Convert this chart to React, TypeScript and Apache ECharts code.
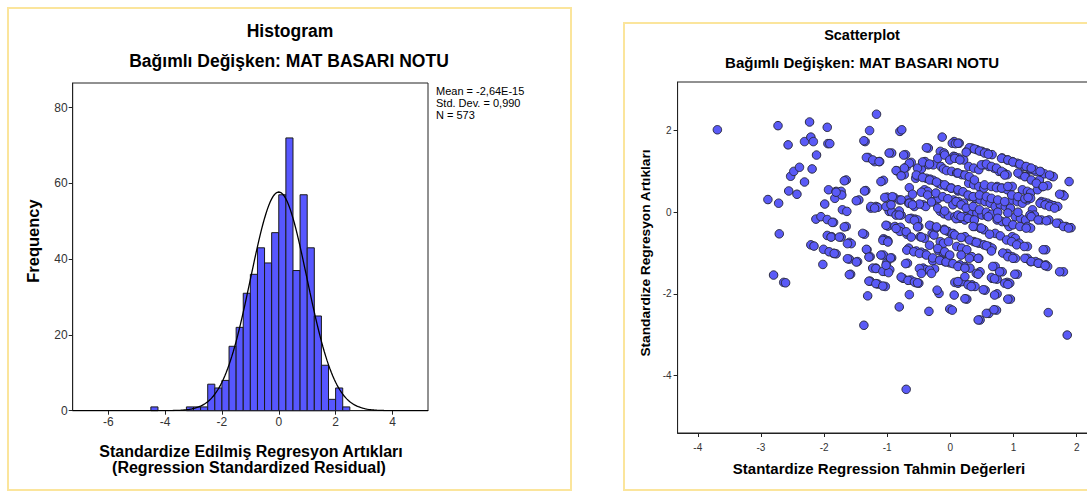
import React, { useEffect, useRef } from "react";
import * as echarts from "echarts";

// ---------- Histogram data ----------
const binStarts = [-4.5, -3.25, -3.0, -2.75, -2.5, -2.25, -2.0, -1.75, -1.5, -1.25, -1.0, -0.75, -0.5, -0.25, 0.0, 0.25, 0.5, 0.75, 1.0, 1.25, 1.5, 1.75, 2.0, 2.25];
const binCounts = [1, 1, 1, 1, 7, 6, 8, 17, 22, 31, 36, 43, 39, 47, 57, 72, 37, 57, 43, 25, 12, 3, 6, 1];
const BIN_WIDTH = 0.25;
const MEAN = -2.64e-15;
const STD_DEV = 0.99;
const N = 573;
const histXTicks = [-6, -4, -2, 0, 2, 4];
const histYTicks = [0, 20, 40, 60, 80];

// ---------- Scatter data (predicted, residual) ----------
const predicted = [
  -3.69, -2.73, -2.57, -2.89, -2.72, -2.71, -2.8, -2.64, -2.61, -2.53, -2.48, -2.39, -2.56, -2.43, -2.31, -2.31, -2.23, -2.21, -2.17, -2.19, -2.12, -1.95, -1.94, -1.91,
  -2.13, -2.05, -2.21, -2.16, -2.01, -2.02, -1.99, -1.95, -1.93, -1.85, -1.83, -1.81, -1.73, -1.72, -1.65, -1.95, -1.88, -1.85, -1.81, -1.73, -1.71, -1.64, -1.65,
  -1.6, -1.57, -1.6, -1.58, -1.47, -1.45, -1.36, -1.34, -1.35, -1.3, -1.28, -1.17, -1.2, -1.12, -1.26, -1.18, -1.15, -1.32, -1.27, -1.31, -1.37, -1.27, -1.15, -1.03,
  -1.18, -1.04, -1.01, -1.0, -0.96, -1.06, -0.93, -1.06, -1.03, -0.99, -0.99, -1.0, -0.89, -1.06, -0.93, -0.97, -0.93, -0.88, -0.83, -0.79, -0.8, -0.84, -0.8, -0.77,
  -0.73, -0.71, -0.78, -0.81, -0.68, -0.7, -0.62, -0.69, -0.66, -0.68, -0.75, -0.63, -0.54, -0.5, -0.65, -0.81, -0.7, -0.62, -0.57, -0.62, -0.56, -0.52, -0.5,
  -0.54, -0.46, -0.4, -0.48, -0.41, -0.55, -0.52, -0.49, -0.46, -0.4, -0.35, -0.41, -0.36, -0.43, -0.39, -0.38, -0.32, -0.27, -0.35, -0.27, -0.43, -0.39, -0.34,
  -0.28, -0.25, -0.29, -0.26, -0.3, -0.22, -0.27, -0.22, -0.19, -0.18, -0.16, -0.11, -0.19, -0.11, -0.16, -0.09, -0.01, -0.13, -0.16, -0.1, -0.15, -0.11, -0.06,
  -0.19, -0.14, -0.06, 0.02, -0.16, -0.1, -0.03, -0.1, -0.04, 0.02, -0.01, 0.03, 0.06, 0.07, 0.12, 0.18, 0.06, 0.14, 0.02, 0.1, 0.18, 0.05, 0.13, 0.21, 0.05, 0.13,
  0.21, 0.07, 0.15, 0.23, 0.1, 0.18, 0.26, 0.15, 0.23, 0.31, 0.26, 0.26, 0.34, 0.42, 0.5, 0.58, 0.66, 0.29, 0.37, 0.45, 0.53, 0.61, 0.69, 0.29, 0.37, 0.45, 0.53,
  0.31, 0.39, 0.47, 0.55, 0.63, 0.34, 0.42, 0.5, 0.58, 0.39, 0.47, 0.53, 0.37, 0.45, 0.53, 0.61, 0.66, 0.34, 0.45, 0.47, 0.34, 0.39, 0.55, 0.47, 0.61, 0.73, 0.74,
  0.66, 0.74, 0.71, 0.82, 0.9, 0.94, 0.95, 1.06, 0.9, 0.98, 1.03, 0.71, 0.79, 0.74, 0.82, 0.9, 0.93, 0.71, 0.79, 0.87, 0.95, 0.74, 0.82, 0.9, 0.98, 0.77, 0.85,
  0.9, 0.82, 0.9, 0.98, 1.06, 0.98, 1.03, 1.09, 0.98, 1.06, 1.14, 1.03, 1.11, 1.19, 1.14, 1.22, 1.27, 1.11, 1.19, 1.27, 1.35, 1.17, 1.25, 1.33, 1.22, 1.27, 1.22,
  1.22, 1.27, 1.35, 1.41, 1.51, 1.54, 1.51, 1.22, 1.27, 1.3, 1.33, 1.38, 1.46, 1.54, 1.41, 1.44, 1.49, 1.44, 1.49, 1.54, 1.59, 1.64, 1.7, 1.44, 1.56, 1.72, 1.61,
  1.63, 1.78, 1.8, 1.88, 1.83, 1.91, 1.79, 1.55, 1.85, 0.23, 0.23, -0.03
];
const residual = [
  2.02, 2.12, 1.65, 0.31, 0.22, -0.53, -1.54, -1.72, -1.73, 0.88, 1.0, 1.1, 0.52, 0.44, 0.74, 1.73, 2.21, 1.84, 1.73, 1.06, 1.4, 2.08, 1.68, 1.68,
  -0.17, -0.11, -0.8, -0.83, -0.91, -1.28, 0.2, -0.18, 0.55, -0.25, 0.34, 0.51, 0.51, 0.42, 0.79, -0.57, -0.6, -1.01, -1.02, -0.61, 0.06, 0.02, -0.35,
  -0.74, -0.77, -1.15, -1.52, -1.21, 0.3, -0.54, 0.53, 1.73, 1.34, 2.0, 2.4, 1.24, 1.24, 0.1, 0.14, 0.12, -0.92, -1.09, -2.05, -2.77, -1.69, -1.76, -1.82,
  -1.37, -1.45, -1.24, -1.41, -1.41, -1.05, -1.12, -0.65, -0.68, -0.7, -0.34, 0.37, 0.36, 0.78, 1.45, 0.02, 0.01, -0.35, -0.39, -0.37, -0.47, 1.01, 1.98, 2.02,
  0.92, 1.41, -0.07, 0.3, 0.3, 1.1, 1.22, -0.54, -0.88, -1.25, -1.62, -1.66, -1.73, -1.74, -2.02, -2.32, -4.34, 0.22, 0.14, -0.15, -0.17, -0.19, -0.35,
  -0.95, -0.98, -1.02, -0.6, -0.64, 0.83, 0.89, 0.96, 1.06, 1.24, 1.57, 0.55, 0.51, 0.18, 0.14, 0.83, 0.81, 0.78, 1.16, 1.16, -1.37, -1.41, -2.43,
  -1.19, -1.39, -0.52, -0.56, -0.34, -0.38, 0.26, 0.3, 0.34, -1.99, -0.72, -0.76, -0.94, -0.99, -1.17, -1.21, -1.24, 1.84, 1.49, 1.45, 1.12, 1.06, 1.02,
  0.71, 0.67, 0.63, 0.59, 0.02, -0.04, -0.09, -0.42, -0.47, -0.53, -2.37, -2.4, -2.03, -1.72, -1.74, -1.7, 1.73, 1.69, 1.0, 0.96, 0.92, 1.37, 1.33, 1.28, 0.3, 0.26,
  0.22, -0.11, -0.15, -0.19, -0.84, -0.88, -0.92, -1.29, -1.33, -1.37, -2.13, 1.49, 1.57, 1.53, 1.49, 1.45, 1.41, 1.12, 1.08, 1.04, 1.16, 1.12, 1.08, 0.71, 0.67, 0.63, 0.59,
  0.38, 0.34, 0.3, 0.26, 0.22, 0.02, -0.02, -0.07, -0.09, -0.35, -0.39, -0.43, -0.72, -0.76, -0.8, -0.84, -0.88, -1.09, -1.13, -1.46, -1.78, -1.82, -1.91, -2.64, -2.48, -2.4, -2.0,
  -1.62, -1.64, -1.33, -1.46, -1.72, -1.74, -2.13, -1.52, -1.01, -1.09, -1.13, -0.52, -0.58, -0.19, -0.23, -0.27, -0.35, 0.14, 0.18, 0.14, 0.1, 0.63, 0.59, 0.55, 0.63, 1.0, 0.96,
  0.92, 1.33, 1.28, 1.24, 1.2, -0.6, -0.64, -0.76, 0.3, 0.26, 0.22, -0.11, -0.15, -0.19, 0.55, 0.51, 0.47, 0.92, 0.88, 1.04, 1.0, 1.12, 1.08, 1.04, -0.35, -0.39, -0.84,
  -1.13, -1.21, -1.21, -1.25, -1.29, -1.33, -0.92, 0.3, 0.34, 0.06, -0.07, 0.55, 0.63, 0.65, 0.79, 0.98, 0.94, 0.26, 0.24, 0.22, 0.18, 0.16, 0.14, -0.19, -0.19, -0.27, 0.88,
  0.87, 0.43, 0.4, 0.75, -0.35, -0.38, -1.46, -2.46, -3.01, -0.6, -1.58, -0.72
];

// Further points read from the dense middle of the cloud, as [predicted, residual]
const denseUpperLeft: [number, number][] = [
  [-1.37, 1.75], [0.03, 1.69], [0.08, 1.68], [-0.38, 1.58], [-0.97, 1.45], [-0.74, 1.4], [-1.33, 1.34], [-1.23, 1.28], [-1.13, 1.24], [-0.65, 1.2],
  [-0.73, 1.08], [-0.86, 1.02], [-0.78, 0.89], [-0.52, 1.08], [-0.44, 1.23], [-0.33, 1.18], [-0.2, 1.32], [-0.09, 1.4], [-0.01, 1.28], [0.07, 1.36],
  [-0.54, 0.91], [-0.44, 0.85], [-0.33, 0.79], [-0.22, 0.74], [-0.09, 0.67], [0.01, 0.59], [0.12, 0.52], [-0.65, 0.6], [-0.6, 0.44], [-0.46, 0.49],
  [-0.36, 0.42], [-0.23, 0.47], [-0.12, 0.38], [-0.04, 0.33], [-1.04, 0.36], [-0.92, 0.38], [-0.78, 0.3], [-0.66, 0.22], [-0.49, 0.2], [-0.3, 0.25],
  [-0.2, 0.1], [-0.09, 0.03], [0.04, 0.18], [-1.68, 0.77], [-1.81, 0.49], [-1.36, 0.52], [-1.1, 0.75], [-1.49, 0.28], [-1.26, 0.14], [-1.2, 0.1],
  [-1.02, 0.14], [-0.94, 0.18], [-0.81, 0.03], [-0.65, 0.22], [-0.6, 0.18]
];
const denseLowerLeft: [number, number][] = [
  [-1.87, -0.25], [-1.68, -0.36], [-1.39, -0.52], [-1.89, -0.61], [-1.76, -0.61], [-1.63, -0.77], [-1.07, -0.69], [-0.99, -0.73], [-1.92, -0.97], [-1.84, -1.01],
  [-1.63, -1.14], [-1.49, -1.22], [-1.33, -0.91], [-1.29, -1.1], [-1.1, -1.05], [-0.95, -1.12], [-1.23, -1.37], [-1.18, -1.38], [-1.07, -1.45], [-0.98, -1.48],
  [-1.02, -1.3], [-1.6, -1.53], [-1.29, -1.69], [-1.18, -1.75], [-1.07, -1.81], [-0.69, -0.93], [-0.58, -0.97], [-0.49, -1.01], [-0.38, -1.05], [-0.28, -1.12],
  [-0.17, -1.18], [-0.07, -1.22], [0.04, -1.26], [-0.71, -1.26], [-0.49, -1.38], [-0.46, -1.5], [-0.33, -1.42], [-0.3, -1.5], [-0.78, -1.59], [-0.67, -1.67],
  [-0.57, -1.71], [-0.52, -1.73], [-0.21, -1.91], [-0.86, -0.07], [-0.81, -0.07], [-0.65, -0.16], [-0.57, -0.2], [-1.02, -0.32], [-0.86, -0.4], [-0.7, -0.48],
  [-0.52, -0.36], [-0.46, -0.61], [-0.62, -0.61], [-0.33, -0.32], [-0.22, -0.36], [-0.09, -0.44], [0.04, -0.52], [0.09, -0.16], [-0.33, -0.81], [-0.2, -0.89],
  [-0.09, -0.97], [-0.01, -1.05]
];
const denseUpperRight: [number, number][] = [
  [0.12, 1.69], [0.3, 1.58], [0.38, 1.55], [0.46, 1.5], [0.54, 1.45], [0.6, 1.42], [0.25, 1.47], [0.07, 1.32], [0.15, 1.28], [0.81, 1.32],
  [0.91, 1.28], [0.99, 1.23], [1.1, 1.18], [1.2, 1.12], [1.28, 1.08], [1.42, 1.0], [1.57, 0.91], [0.49, 1.16], [0.57, 1.18], [0.65, 1.12],
  [0.73, 1.08], [0.81, 1.0], [0.86, 0.91], [0.12, 0.96], [0.23, 0.91], [0.3, 0.87], [0.38, 0.79], [1.07, 0.96], [1.18, 0.87], [1.28, 0.79],
  [1.36, 0.71], [1.47, 0.63], [1.73, 0.44], [0.54, 0.67], [0.65, 0.63], [0.73, 0.6], [0.81, 0.59], [0.91, 0.63], [0.12, 0.55], [0.2, 0.5],
  [0.28, 0.42], [0.36, 0.38], [0.46, 0.42], [0.57, 0.38], [0.65, 0.34], [0.75, 0.3], [0.86, 0.26], [0.97, 0.42], [1.07, 0.38], [1.18, 0.33],
  [1.23, 0.36], [1.42, 0.22], [1.5, 0.18], [1.57, 0.14], [1.65, 0.1], [0.09, 0.26], [0.17, 0.18], [0.25, 0.1], [0.36, 0.14], [0.46, 0.06],
  [0.57, 0.0], [0.65, -0.05], [0.75, 0.0], [0.91, -0.02], [1.07, 0.0], [1.26, -0.07], [0.12, -0.07], [0.23, -0.11]
];
const denseLowerRight: [number, number][] = [
  [0.17, -0.11], [0.28, -0.15], [0.38, -0.19], [0.6, -0.11], [0.75, -0.15], [0.89, -0.23], [0.99, -0.31], [1.1, -0.35], [1.2, -0.39], [1.28, -0.11],
  [1.39, -0.19], [1.52, -0.21], [1.68, -0.27], [1.79, -0.35], [1.87, -0.39], [0.36, -0.35], [0.49, -0.39], [0.62, -0.54], [0.07, -0.56], [0.17, -0.62],
  [0.3, -0.68], [0.41, -0.74], [0.57, -0.82], [0.65, -0.95], [0.89, -0.68], [0.97, -0.72], [1.05, -0.8], [1.17, -0.84], [1.47, -0.92], [0.17, -1.05],
  [0.3, -1.13], [0.44, -1.13], [0.83, -1.0], [0.91, -1.09], [0.99, -1.13], [1.18, -1.13], [1.28, -1.21], [1.39, -1.25], [1.5, -1.31], [1.73, -1.46],
  [0.12, -1.33], [0.23, -1.37], [0.41, -1.5], [0.44, -1.52], [0.67, -1.33], [0.78, -1.46], [0.65, -1.6], [0.7, -1.63], [1.02, -1.52], [0.86, -1.74],
  [0.91, -1.77], [0.12, -1.7], [0.28, -1.78], [0.33, -1.82], [0.52, -1.9], [0.7, -2.03], [0.91, -2.13], [0.23, -2.12], [0.57, -2.48], [0.69, -2.39],
  [0.44, -2.64]
];
const scatterXTicks = [-4, -3, -2, -1, 0, 1, 2];
const scatterYTicks = [-4, -2, 0, 2];

const FONT = "'Liberation Sans', Arial, Helvetica, sans-serif";

function normalCurve(): number[][] {
  const pts: number[][] = [];
  for (let i = 0; i <= 250; i++) {
    const x = -7.25 + (12.5 * i) / 250;
    const z = (x - MEAN) / STD_DEV;
    const y = (N * BIN_WIDTH * Math.exp(-0.5 * z * z)) / (STD_DEV * Math.sqrt(2 * Math.PI));
    pts.push([x, y]);
  }
  return pts;
}

export default function App() {
  const ref = useRef<HTMLDivElement>(null);
  useEffect(() => {
    if (!ref.current) return;
    const chart = echarts.init(ref.current, null, { renderer: "svg" });
    const histData = binStarts.map((s, i) => [s, s + BIN_WIDTH, binCounts[i]]);
    const n = Math.min(predicted.length, residual.length);
    const scatterData: number[][] = [];
    for (let i = 0; i < n; i++) scatterData.push([predicted[i], residual[i]]);
    [denseUpperLeft, denseLowerLeft, denseUpperRight, denseLowerRight].forEach((arr) => arr.forEach((p) => scatterData.push([p[0], p[1]])));
    const tickLabel = { color: "#333", fontFamily: FONT };
    const axisLine = { show: true, onZero: false, lineStyle: { color: "#222", width: 1 } };
    const axisTick = { show: true, length: 4, lineStyle: { color: "#222", width: 1 } };
    const hidden = { show: false };
    chart.setOption({
      animation: false,
      textStyle: { fontFamily: FONT },
      grid: [
        { left: 72.7, top: 83, width: 355.3, height: 327.7, show: true, borderColor: "#222", borderWidth: 1, containLabel: false },
        { left: 677.6, top: 82, width: 417.4, height: 351, show: true, borderColor: "#222", borderWidth: 1, containLabel: false },
      ],
      xAxis: [
        {
          type: "value", gridIndex: 0, min: -7.25, max: 5.25,
          axisLine, axisTick: { ...axisTick, customValues: histXTicks },
          axisLabel: { ...tickLabel, fontSize: 12, margin: 5, customValues: histXTicks },
          splitLine: hidden,
        },
        {
          type: "value", gridIndex: 1, min: -4.32, max: 2.29,
          axisLine, axisTick: { ...axisTick, customValues: scatterXTicks },
          axisLabel: { ...tickLabel, fontSize: 10, margin: 9, customValues: scatterXTicks },
          splitLine: hidden,
        },
      ],
      yAxis: [
        {
          type: "value", gridIndex: 0, min: 0, max: 86.5,
          axisLine, axisTick: { ...axisTick, customValues: histYTicks },
          axisLabel: { ...tickLabel, fontSize: 12, margin: 5, customValues: histYTicks },
          splitLine: hidden,
        },
        {
          type: "value", gridIndex: 1, min: -5.41, max: 3.19,
          axisLine, axisTick: { ...axisTick, customValues: scatterYTicks },
          axisLabel: { ...tickLabel, fontSize: 10, margin: 6, customValues: scatterYTicks },
          splitLine: hidden,
        },
      ],
      series: [
        {
          type: "custom",
          xAxisIndex: 0, yAxisIndex: 0,
          data: histData,
          encode: { x: [0, 1], y: 2 },
          renderItem: (params: any, api: any) => {
            const p1 = api.coord([api.value(0), api.value(2)]);
            const p2 = api.coord([api.value(1), 0]);
            return {
              type: "rect",
              shape: { x: p1[0], y: p1[1], width: p2[0] - p1[0], height: p2[1] - p1[1] },
              style: { fill: "#5757ff", stroke: "#1a1a1a", lineWidth: 1 },
            };
          },
        },
        {
          type: "line",
          xAxisIndex: 0, yAxisIndex: 0,
          data: normalCurve(),
          showSymbol: false,
          symbol: "none",
          lineStyle: { color: "#000", width: 1.3 },
          z: 5,
        },
        {
          type: "scatter",
          xAxisIndex: 1, yAxisIndex: 1,
          data: scatterData,
          symbolSize: 8.5,
          itemStyle: { color: "#5a5af7", borderColor: "#2a2a40", borderWidth: 1, opacity: 1 },
        },
      ],
      graphic: [
        { type: "rect", shape: { x: 8, y: 8, width: 563, height: 482 }, style: { fill: "none", stroke: "#fbe59c", lineWidth: 2 }, z: -10 },
        { type: "rect", shape: { x: 624, y: 23, width: 500, height: 467 }, style: { fill: "none", stroke: "#fbe59c", lineWidth: 2 }, z: -10 },
        { type: "text", x: 290, y: 31, style: { text: "Histogram", font: `bold 17.5px ${FONT}`, fill: "#000", textAlign: "center", textVerticalAlign: "middle" } },
        { type: "text", x: 289, y: 61, style: { text: "Bağımlı Değişken: MAT BASARI NOTU", font: `bold 17.5px ${FONT}`, fill: "#000", textAlign: "center", textVerticalAlign: "middle" } },
        { type: "text", x: 33, y: 241, rotation: Math.PI / 2, style: { text: "Frequency", font: `bold 16.5px ${FONT}`, fill: "#000", textAlign: "center", textVerticalAlign: "middle" } },
        { type: "text", x: 251, y: 451, style: { text: "Standardize Edilmiş Regresyon Artıkları", font: `bold 16px ${FONT}`, fill: "#000", textAlign: "center", textVerticalAlign: "middle" } },
        { type: "text", x: 249, y: 467, style: { text: "(Regression Standardized Residual)", font: `bold 16px ${FONT}`, fill: "#000", textAlign: "center", textVerticalAlign: "middle" } },
        { type: "text", x: 436, y: 103, style: { text: `Mean = -2,64E-15\nStd. Dev. = 0,990\nN = ${N}`, font: `11px ${FONT}`, lineHeight: 12, fill: "#000", textAlign: "left", textVerticalAlign: "middle" } },
        { type: "text", x: 862, y: 35, style: { text: "Scatterplot", font: `bold 14.5px ${FONT}`, fill: "#000", textAlign: "center", textVerticalAlign: "middle" } },
        { type: "text", x: 862, y: 62, style: { text: "Bağımlı Değişken: MAT BASARI NOTU", font: `bold 15px ${FONT}`, fill: "#000", textAlign: "center", textVerticalAlign: "middle" } },
        { type: "text", x: 645, y: 253, rotation: Math.PI / 2, style: { text: "Standardize Regresyon Artıkları", font: `bold 13.7px ${FONT}`, fill: "#000", textAlign: "center", textVerticalAlign: "middle" } },
        { type: "text", x: 879, y: 468, style: { text: "Stantardize Regression Tahmin Değerleri", font: `bold 15px ${FONT}`, fill: "#000", textAlign: "center", textVerticalAlign: "middle" } },
      ],
    });
    return () => chart.dispose();
  }, []);
  return (
    <div style={{ position: "fixed", left: 0, top: 0, width: 1087, height: 493, overflow: "hidden", background: "#fff" }}>
      <div ref={ref} style={{ width: 1110, height: 493 }} />
    </div>
  );
}
